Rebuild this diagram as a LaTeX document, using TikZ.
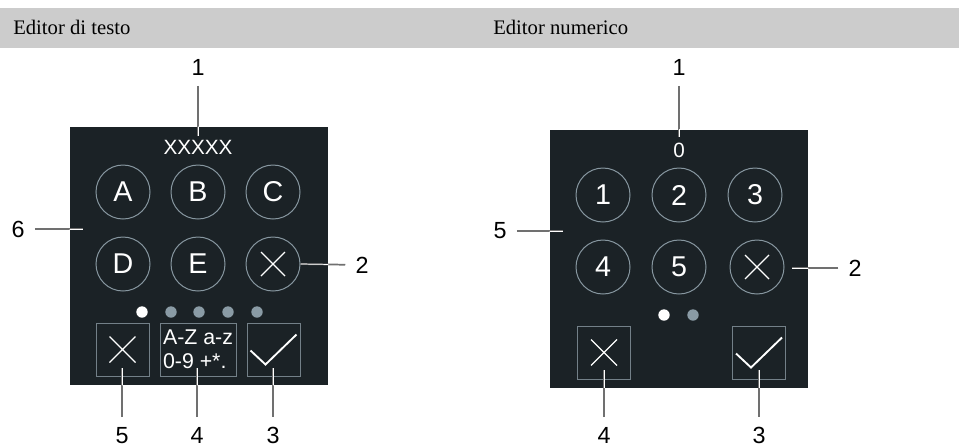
\documentclass[tikz,border=0pt]{standalone}
\usepackage{fontspec}
\setmainfont{Liberation Serif}
\setsansfont{Liberation Sans}
\usetikzlibrary{positioning}

\definecolor{barbg}{HTML}{CCCCCC}
\definecolor{panelbg}{HTML}{1B2226}
\definecolor{ringcol}{HTML}{8797A0}
\definecolor{dotcol}{HTML}{8A9BA5}
\definecolor{leadcol}{HTML}{707070}

\begin{document}
\begin{tikzpicture}[
  x=0.75pt, y=-0.75pt,
  panel/.style={fill=panelbg, draw=none, minimum size=193.5pt, inner sep=0pt},
  key/.style={circle, draw=ringcol, line width=0.75pt, minimum size=40.5pt,
    inner sep=0pt, text=white, font=\sffamily\fontsize{21.5}{24}\selectfont},
  btn/.style={rectangle, draw=ringcol!85!black, line width=0.75pt,
    minimum width=39.75pt, minimum height=39.75pt, inner sep=0pt},
  glyph/.style={draw=white, line width=0.95pt},
  entry/.style={text=white, inner sep=0pt, font=\sffamily\fontsize{15.5}{18}\selectfont},
  callout/.style={inner sep=7.5pt, font=\sffamily\fontsize{17.5}{20}\selectfont},
  head/.style={anchor=base west, inner sep=0pt, font=\fontsize{15.5}{18}\selectfont},
  lead/.style={draw=leadcol, line width=1.3pt},
  leadin/.style={draw=white, line width=0.55pt}
]
\useasboundingbox (0,0) rectangle (959,447);

% header bar
\fill[barbg] (0,8) rectangle (959,48);
\node[head] (hText) at (13,34) {Editor di testo};
\node[head] (hNum) at (493,34) {Editor numerico};

% panels
\node[panel] (pText) at (199,256) {};
\node[panel] (pNum) at (679,258.5) {};

% text editor
\node[entry] (vText) at (198,147) {XXXXX};
\foreach \t/\x/\y in {A/123/192, B/198/192, C/273/192, D/123/264, E/198/264}
  \node[key] (k\t) at (\x,\y) {\t};
\node[key] (kDel) at (273,264) {};
\draw[glyph] (kDel.center) ++(-12,-12) -- ++(24,24)
             (kDel.center) ++(-12,12) -- ++(24,-24);

\fill[white] (142,312) circle (5.7);
\foreach \x in {171,199,228,257}
  \fill[dotcol] (\x,312) circle (5.7);

\node[btn] (bEsc) at (122.5,349.5) {};
\draw[glyph] (bEsc.center) ++(-13,-13) -- ++(26,26)
             (bEsc.center) ++(-13,13) -- ++(26,-26);
\node[btn, minimum width=57pt, align=left, text=white,
  font=\sffamily\fontsize{16}{18}\selectfont] (bMode) at (198,349.5) {A-Z a-z\\0-9 +*.};
\node[btn] (bOk) at (273.5,349.5) {};
\draw[glyph, line width=1.4pt] (bOk.center) ++(-23,1) -- ++(15,14) -- ++(31,-30);

% numeric editor
\node[entry] (vNum) at (679,150) {0};
\foreach \t/\x/\y in {1/603/195, 2/679/195, 3/755/195, 4/603/267, 5/679/267}
  \node[key] (n\t) at (\x,\y) {\t};
\node[key] (nDel) at (757,267) {};
\draw[glyph] (nDel.center) ++(-12,-12) -- ++(24,24)
             (nDel.center) ++(-12,12) -- ++(24,-24);

\fill[white] (664,315) circle (5.7);
\fill[dotcol] (693,315) circle (5.7);

\node[btn] (nEsc) at (604,352.5) {};
\draw[glyph] (nEsc.center) ++(-13,-13) -- ++(26,26)
             (nEsc.center) ++(-13,13) -- ++(26,-26);
\node[btn] (nOk) at (759,352.5) {};
\draw[glyph, line width=1.4pt] (nOk.center) ++(-23,1) -- ++(15,14) -- ++(31,-30);

% callouts
\node[callout] (t1) at (198,67.5) {1};
\node[callout] (t2) at (362,265) {2};
\node[callout] (t3) at (273,435.5) {3};
\node[callout] (t4) at (197,435.5) {4};
\node[callout] (t5) at (122,435.5) {5};
\node[callout] (t6) at (18,229) {6};
\node[callout] (u1) at (679,67.5) {1};
\node[callout] (u2) at (855,268) {2};
\node[callout] (u3) at (759,435.5) {3};
\node[callout] (u4) at (604,435.5) {4};
\node[callout] (u5) at (500,231) {5};

\coordinate (e1) at (198,136);
\coordinate (e3) at (273,368);
\coordinate (e4) at (197,368);
\coordinate (e5) at (122,368);
\coordinate (e6) at (83,229);
\coordinate (f1) at (679,137);
\coordinate (f2) at (792,268);
\coordinate (f3) at (759,370);
\coordinate (f4) at (604,370);
\coordinate (f5) at (563,231);

\def\leadlist{t1/e1, t2/kDel.east, t3/e3, t4/e4, t5/e5, t6/e6,
  u1/f1, u2/f2, u3/f3, u4/f4, u5/f5}
\foreach \a/\b in \leadlist
  \draw[lead] (\a) -- (\b);
% white core where the leaders cross the panels
\begin{scope}
  \clip (pText.north west) rectangle (pText.south east)
        (pNum.north west) rectangle (pNum.south east);
  \foreach \a/\b in \leadlist
    \draw[leadin] (\a) -- (\b);
\end{scope}

\end{tikzpicture}
\end{document}
